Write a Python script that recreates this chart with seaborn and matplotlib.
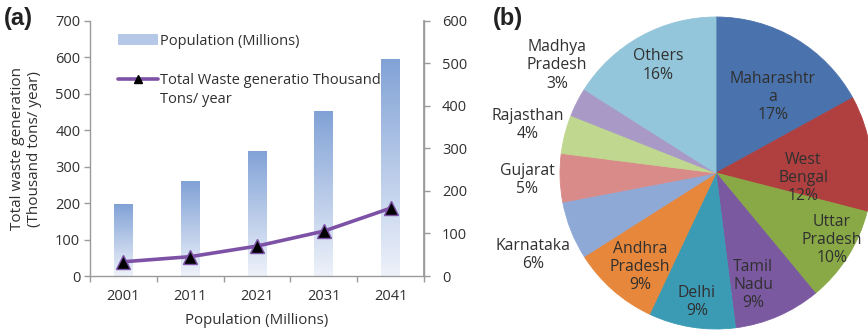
import numpy as np
import pandas as pd
import matplotlib
matplotlib.use("Agg")
import matplotlib.pyplot as plt
import seaborn as sns
from matplotlib.colors import LinearSegmentedColormap
from matplotlib.patches import Patch
from matplotlib.lines import Line2D

# Panel (a): urban population and waste generation projections
years = ["2001", "2011", "2021", "2031", "2041"]
population = [197, 260, 343, 452, 595]
waste = [39, 53, 82, 123, 186]

# Panel (b): state-wise share of waste generation
states = ["Maharashtra", "West Bengal", "Uttar Pradesh", "Tamil Nadu", "Delhi",
          "Andhra Pradesh", "Karnataka", "Gujarat", "Rajasthan",
          "Madhya Pradesh", "Others"]
state_labels = ["Maharashtr\na", "West\nBengal", "Uttar\nPradesh", "Tamil\nNadu",
                "Delhi", "Andhra\nPradesh", "Karnataka", "Gujarat", "Rajasthan",
                "Madhya\nPradesh", "Others"]
shares = [17, 12, 10, 9, 9, 9, 6, 5, 4, 3, 16]

slice_colors = ["#4a72ac", "#b0403f", "#89a946", "#7a59a1", "#3b9bb5",
                "#e6873b", "#8fa9d7", "#d98b89", "#c0d78f", "#a999c7", "#93c6da"]

# label anchor points in pie radius units (center at 0, 0)
label_xy = [(0.365, 0.487), (0.558, -0.032), (0.744, -0.43), (0.237, -0.718),
            (-0.122, -0.827), (-0.487, -0.603), (-1.173, -0.526),
            (-1.21, -0.045), (-1.205, 0.308), (-1.02, 0.69), (-0.37, 0.69)]

sns.set_theme(style="white")
plt.rcParams["font.family"] = ["Open Sans", "DejaVu Sans"]
TXT = "#303030"
SPINE = "#9a9a9a"
PURPLE = "#7d52a6"

W, H = 868, 333
fig = plt.figure(figsize=(W / 100, H / 100), dpi=100)

# ---------------- panel (a) ----------------
ax = fig.add_axes([90 / W, (H - 276) / H, (424 - 90) / W, (276 - 20.7) / H])
df = pd.DataFrame({"year": years, "population": population, "waste": waste})
sns.barplot(data=df, x="year", y="population", ax=ax, width=0.28,
            color="#8aa9d9", saturation=1, zorder=1)

fade = LinearSegmentedColormap.from_list("fade", ["#eef2fa", "#81a2d6"])
grad = np.linspace(0, 1, 256).reshape(-1, 1)
for p in list(ax.patches):
    x0, y0, w, h = p.get_x(), p.get_y(), p.get_width(), p.get_height()
    im = ax.imshow(grad, extent=[x0, x0 + w, y0, y0 + h], origin="lower",
                   cmap=fade, aspect="auto", zorder=1)
    im.set_clip_path(p)
    p.set_facecolor("none")
    p.set_edgecolor("none")

sns.pointplot(data=df, x="year", y="waste", ax=ax, color=PURPLE,
              markers="^", linewidth=2.6, markersize=10,
              markerfacecolor="black", markeredgecolor=PURPLE,
              markeredgewidth=1.0, zorder=3)

ax.set_xlim(-0.5, 4.5)
ax.set_ylim(0, 700)
ax.set_yticks(range(0, 701, 100))
ax.set_xticks(range(len(years)))
ax.set_xticklabels(years)
ax.set_xticks(np.arange(-0.5, 5, 1), minor=True)
ax.tick_params(axis="x", which="major", length=0, labelsize=10.5,
               labelcolor=TXT, pad=9)
ax.tick_params(axis="x", which="minor", length=4, color=SPINE, width=1,
               direction="out", bottom=True)
ax.tick_params(axis="y", length=4, color=SPINE, width=1, direction="out",
               labelsize=10.5, labelcolor=TXT, left=True, pad=3)
ax.set_ylabel("")
ax.set_xlabel("Population (Millions)", fontsize=10.8, color=TXT, labelpad=7)
ax.spines["top"].set_visible(False)
for s in ["left", "bottom", "right"]:
    ax.spines[s].set_color(SPINE)
    ax.spines[s].set_linewidth(1)

ax2 = ax.twinx()
ax2.set_ylim(0, 600)
ax2.set_yticks(range(0, 601, 100))
ax2.tick_params(axis="y", length=4, color=SPINE, width=1, direction="out",
                labelsize=10.5, labelcolor=TXT, right=True, pad=9)
ax2.spines["top"].set_visible(False)
ax2.spines["right"].set_color(SPINE)
ax2.spines["left"].set_visible(False)
ax2.spines["bottom"].set_visible(False)
ax2.grid(False)

handles = [Patch(facecolor="#b5c8e8", edgecolor="none"),
           Line2D([0], [0], color=PURPLE, lw=2.6, marker="^", markersize=6,
                  markerfacecolor="black", markeredgecolor="black")]
leg = ax.legend(handles, ["Population (Millions)", "Total Waste generatio Thousand"],
                loc="upper left", bbox_to_anchor=(0.05, 0.995), frameon=False,
                fontsize=10.5, labelcolor=TXT, handlelength=2.7,
                handletextpad=0.15, labelspacing=1.65, borderpad=0.3)
fig.text(160 / W, 1 - 99 / H, "Tons/ year", fontsize=10.5, color=TXT,
         ha="left", va="center")

fig.text(26 / W, 1 - 149 / H, "Total waste generation\n(Thousand tons/ year)",
         rotation=90, ha="center", va="center", ma="center", fontsize=11,
         color=TXT, linespacing=1.25)
fig.text(4 / W, 1 - 18 / H, "(a)", fontsize=17, fontweight="bold",
         family="Liberation Sans", color="#222222", ha="left", va="center")

# ---------------- panel (b) ----------------
R = 156
cx, cy = 716, 173
axp = fig.add_axes([(cx - R) / W, (H - cy - R) / H, 2 * R / W, 2 * R / H])
wedges, _ = axp.pie(shares, startangle=90, counterclock=False,
                    colors=slice_colors, radius=1,
                    wedgeprops=dict(linewidth=0.6))
for wdg in wedges:
    wdg.set_edgecolor(wdg.get_facecolor())
axp.set_xlim(-1, 1)
axp.set_ylim(-1, 1)
axp.set_aspect("auto")
for lab, share, (lx, ly) in zip(state_labels, shares, label_xy):
    axp.text(lx, ly, f"{lab}\n{share}%", ha="center", va="center",
             fontsize=11.3, color=TXT, linespacing=1.2, clip_on=False)

fig.text(493 / W, 1 - 18 / H, "(b)", fontsize=17, fontweight="bold",
         family="Liberation Sans", color="#222222", ha="left", va="center")

fig.savefig("out.png", dpi=100)
